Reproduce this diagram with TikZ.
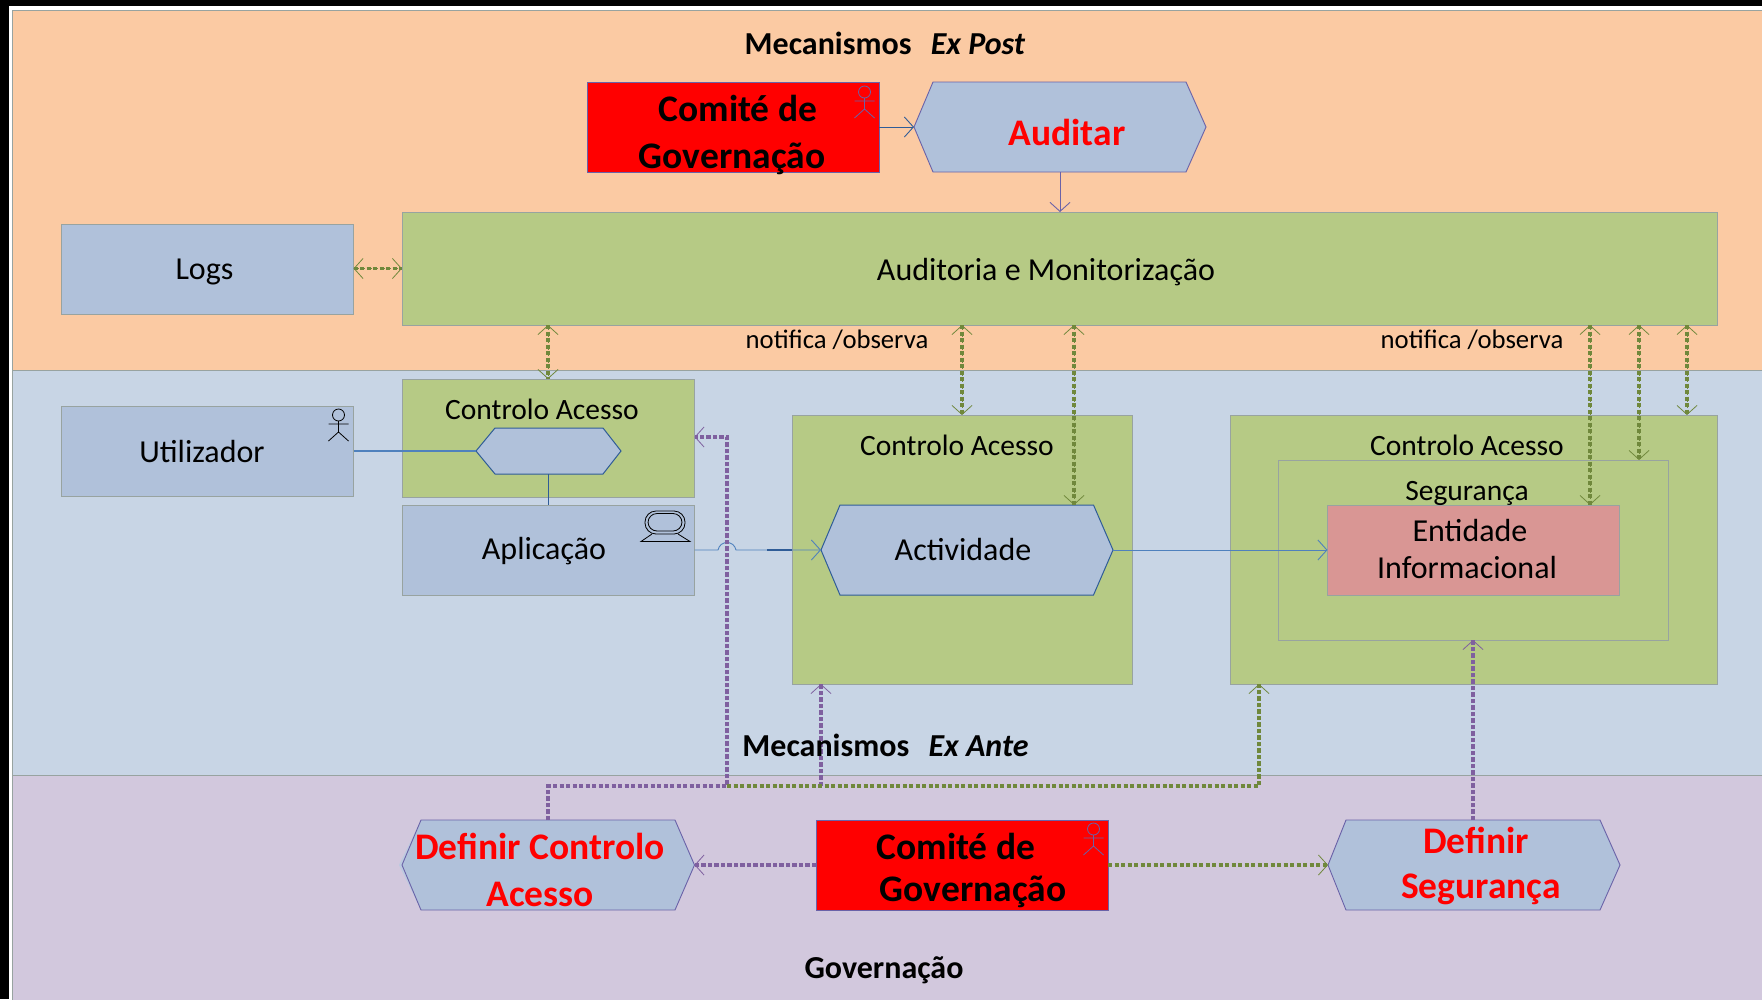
\documentclass[tikz,border=0pt]{standalone}
\usepackage{fontspec}
\setmainfont{Carlito}
\usetikzlibrary{arrows.meta,fit}
\definecolor{bandO}{HTML}{FBCAA3}
\definecolor{bandB}{HTML}{C8D5E5}
\definecolor{bandP}{HTML}{D2C8DD}
\definecolor{boxG}{HTML}{B6CA85}
\definecolor{boxB}{HTML}{B0C1DA}
\definecolor{boxE}{HTML}{D99694}
\definecolor{edgeG}{HTML}{98A3A0}
\definecolor{lineG}{HTML}{70883C}
\definecolor{lineP}{HTML}{7F609F}
\definecolor{lineB}{HTML}{4F81BD}
\definecolor{lineD}{HTML}{2F5C97}
\definecolor{lineV}{HTML}{6A62A8}
\tikzset{
  band/.style={draw=edgeG,line width=1pt},
  plainbox/.style={draw=edgeG,line width=1pt,inner sep=0pt,outer sep=0pt},
  greenbox/.style={plainbox,fill=boxG},
  bluebox/.style={plainbox,fill=boxB},
  redbox/.style={plainbox,fill=red,draw=lineV},
  anchorbox/.style={inner sep=0pt,outer sep=0pt},
  hexblue/.style={fill=boxB,draw=lineD,line width=1pt},
  hexviolet/.style={fill=boxB,draw=lineV,line width=.9pt},
  barb/.tip={Straight Barb[length=9pt,width=20pt]},
  thin line/.style={line width=.9pt,-{barb}},
  dashline/.style={draw=#1,line width=.8pt,dash pattern=on 4.3pt off 2.2pt,
    postaction={draw=#1,line width=3.6pt,dash pattern=on 4.3pt off 2.2pt,arrows=-}},
  dashG/.style={dashline=lineG},
  dashP/.style={dashline=lineP},
  reg/.style={font=\fontsize{32}{38}\selectfont,inner sep=0pt,align=center},
  small/.style={font=\fontsize{26.7}{30}\selectfont,inner sep=0pt,align=center},
  caption/.style={font=\fontsize{29.5}{34}\selectfont,inner sep=0pt,align=center},
  titletxt/.style={font=\bfseries\fontsize{32}{38}\selectfont,inner sep=0pt},
  big/.style={font=\bfseries\fontsize{37.5}{47}\selectfont,inner sep=0pt,align=center},
  bigred/.style={big,text=red},
}
\newcommand{\hexn}[9]{%
  \draw[#2] (#3,#8)--(#4,#7)--(#5,#7)--(#6,#8)--(#5,#9)--(#4,#9)--cycle;
  \node[anchorbox,fit={(#3,#7)(#6,#9)}] (#1) {};}
\newcommand{\actorfig}[3]{%
  \begin{scope}[shift={(#2,#3)},draw=#1,line width=.8pt]
    \draw (0,0) circle[radius=6pt];
    \draw (0,6)--(0,17) (-10,9)--(10,9) (-10,26)--(0,17)--(10,26);
  \end{scope}}
\begin{document}
\begin{tikzpicture}[x=1pt,y=-1pt]
\useasboundingbox (0,0) rectangle (1762,999);
\fill[white] (0,0) rectangle (1762,999);
\fill[black] (0,0) rectangle (1762,6);
\fill[black] (0,0) rectangle (8.5,999);
% bands
\filldraw[band,fill=bandO] (12.5,10.5) rectangle (1763,370);
\filldraw[band,fill=bandB] (12.5,370) rectangle (1763,775);
\filldraw[band,fill=bandP] (12.5,775) rectangle (1763,1000);
% boxes
\node[redbox,fit={(587,82)(879,172)}] (com1) {};
\hexn{aud}{hexviolet}{914}{933}{1186}{1206}{82}{127}{172}
\node[greenbox,fit={(402,212)(1717,325)}] (mon) {};
\node[bluebox,fit={(61.5,224)(353.5,314)}] (logs) {};
\node[greenbox,fit={(402,379)(694.5,497)}] (ca1) {};
\node[bluebox,fit={(61.5,406)(353.5,496)}] (user) {};
\hexn{acc}{hexblue}{476}{495}{603}{621}{428}{451}{474}
\node[bluebox,fit={(402,505)(694.5,595)}] (app) {};
\node[greenbox,fit={(792,415)(1132.5,684)}] (ca2) {};
\hexn{act}{hexblue}{821}{840}{1093.5}{1113}{505}{550}{595}
\node[greenbox,fit={(1230,415)(1717,684)}] (ca3) {};
\node[greenbox,fit={(1278,460)(1668.5,640)}] (seg) {};
\node[plainbox,fill=boxE,fit={(1327.5,505)(1619.5,595)}] (ent) {};
\fill[boxB!85!white] (399,865)--(421,820)--(421,910)--cycle;
\hexn{dca}{hexviolet}{402}{421}{675}{694.5}{820}{865}{910}
\node[redbox,fit={(816,820)(1108,910)}] (com2) {};
\hexn{dseg}{hexviolet}{1328}{1346}{1600}{1620}{820}{865}{910}
% guide coordinates
\coordinate (xa) at (548,0);
\coordinate (xb) at (962,0);
\coordinate (xc) at (1074,0);
\coordinate (xd) at (1590,0);
\coordinate (xe) at (1639,0);
\coordinate (xf) at (1687,0);
\coordinate (xg) at (1473,0);
\coordinate (xh) at (727,0);
\coordinate (xi) at (821,0);
\coordinate (xj) at (1259,0);
\coordinate (yb) at (0,786);
\coordinate (yc) at (0,437);
% thin connectors
\draw[thin line,draw=lineD] (com1.east |- aud.west) -- (aud.west);
\draw[thin line,draw=lineV] (aud.south) -- (mon.north -| aud.south);
\draw[line width=1.2pt,draw=lineB] (user.east |- acc.west) -- (acc.west);
\draw[line width=.9pt,draw=lineD] (acc.south) -- (app.north -| acc.south);
\coordinate (jl) at (718,550);
\coordinate (jr) at (736,550);
\draw[thin line,draw=lineB] (app.east |- act.west) -- (jl) .. controls (720,540) and (734,540) .. (jr) -- (act.west);
\draw[line width=1.8pt,draw=lineD] (767,550) -- (ca2.west |- act.west);
\draw[thin line,draw=lineB] (act.east) -- (ent.west);
% green dotted, bidirectional
\draw[dashG,{barb}-{barb}] (logs.east |- mon.west) -- (mon.west);
\draw[dashG,{barb}-{barb}] (mon.south -| xa) -- (ca1.north -| xa);
\draw[dashG,{barb}-{barb}] (mon.south -| xb) -- (ca2.north -| xb);
\draw[dashG,{barb}-{barb}] (mon.south -| xc) -- (act.north -| xc);
\draw[dashG,{barb}-{barb}] (mon.south -| xd) -- (ent.north -| xd);
\draw[dashG,{barb}-{barb}] (mon.south -| xe) -- (seg.north -| xe);
\draw[dashG,{barb}-{barb}] (mon.south -| xf) -- (ca3.north -| xf);
% ex ante definitions
\draw[dashP,-{barb}] (dca.north -| xa) -- (xa |- yb) -- (xh |- yb) -- (xh |- yc) -- (ca1.east |- yc);
\draw[dashP,-{barb}] (xi |- yb) -- (ca2.south -| xi);
\draw[dashG,-{barb}] (xh |- yb) -- (xj |- yb) -- (ca3.south -| xj);
\draw[dashP,-{barb}] (dseg.north -| xg) -- (seg.south -| xg);
\draw[dashP,-{barb}] (com2.west) -- (dca.east);
\draw[dashG,-{barb}] (com2.east) -- (dseg.west);
% icons
\actorfig{lineV}{864.5}{92}
\actorfig{lineV}{1093.5}{829}
\actorfig{black}{338.5}{415}
\draw[black,line width=.8pt,rounded corners=11pt] (645,511) rectangle (685,534);
\draw[black,line width=.8pt,rounded corners=9pt] (648,513.5) rectangle (682,531);
\draw[black,line width=.8pt] (652,534)--(641,541.5)--(690,541.5)--(678,534);
% labels
\node[titletxt] (t1) at (885,43) {Mecanismos\hspace{.6em}\textit{Ex Post}};
\node[titletxt] (t2) at (885.5,745) {Mecanismos\hspace{.6em}\textit{Ex Ante}};
\node[titletxt] (t3) at (884,970) {Governação};
\node[big] (l1) at (732,135) {\hspace*{12pt}Comité de\\Governação};
\node[bigred] (l2) at (1067,132) {Auditar};
\node[reg] (l3) at (204.5,272) {Logs};
\node[reg] (l4) at (1046,272) {Auditoria e Monitorização};
\node[small] (l5) at (837,340) {notifica /observa};
\node[small] (l6) at (1472,340) {notifica /observa};
\node[caption] (l7) at (542,409) {Controlo Acesso};
\node[caption] (l8) at (957,445) {Controlo Acesso};
\node[caption] (l9) at (1467,445) {Controlo Acesso};
\node[caption] (l10) at (1467,493) {Segurança};
\node[reg] (l11) at (202,452) {Utilizador};
\node[reg] (l12) at (544,551) {Aplicação};
\node[reg] (l13) at (963,549) {Actividade};
\node[reg,font=\fontsize{32}{37}\selectfont] (l14) at (1467,549) {\hspace*{6pt}Entidade\\Informacional};
\node[bigred] (l15) at (540,870) {Definir Controlo\\Acesso};
\node[big,font=\bfseries\fontsize{37.5}{42}\selectfont] (l16) at (956,870) {Comité de\\\hspace*{34pt}Governação};
\node[bigred,font=\bfseries\fontsize{37.5}{45}\selectfont] (l17) at (1476,866) {Definir\\\hspace*{10pt}Segurança};
\end{tikzpicture}
\end{document}
